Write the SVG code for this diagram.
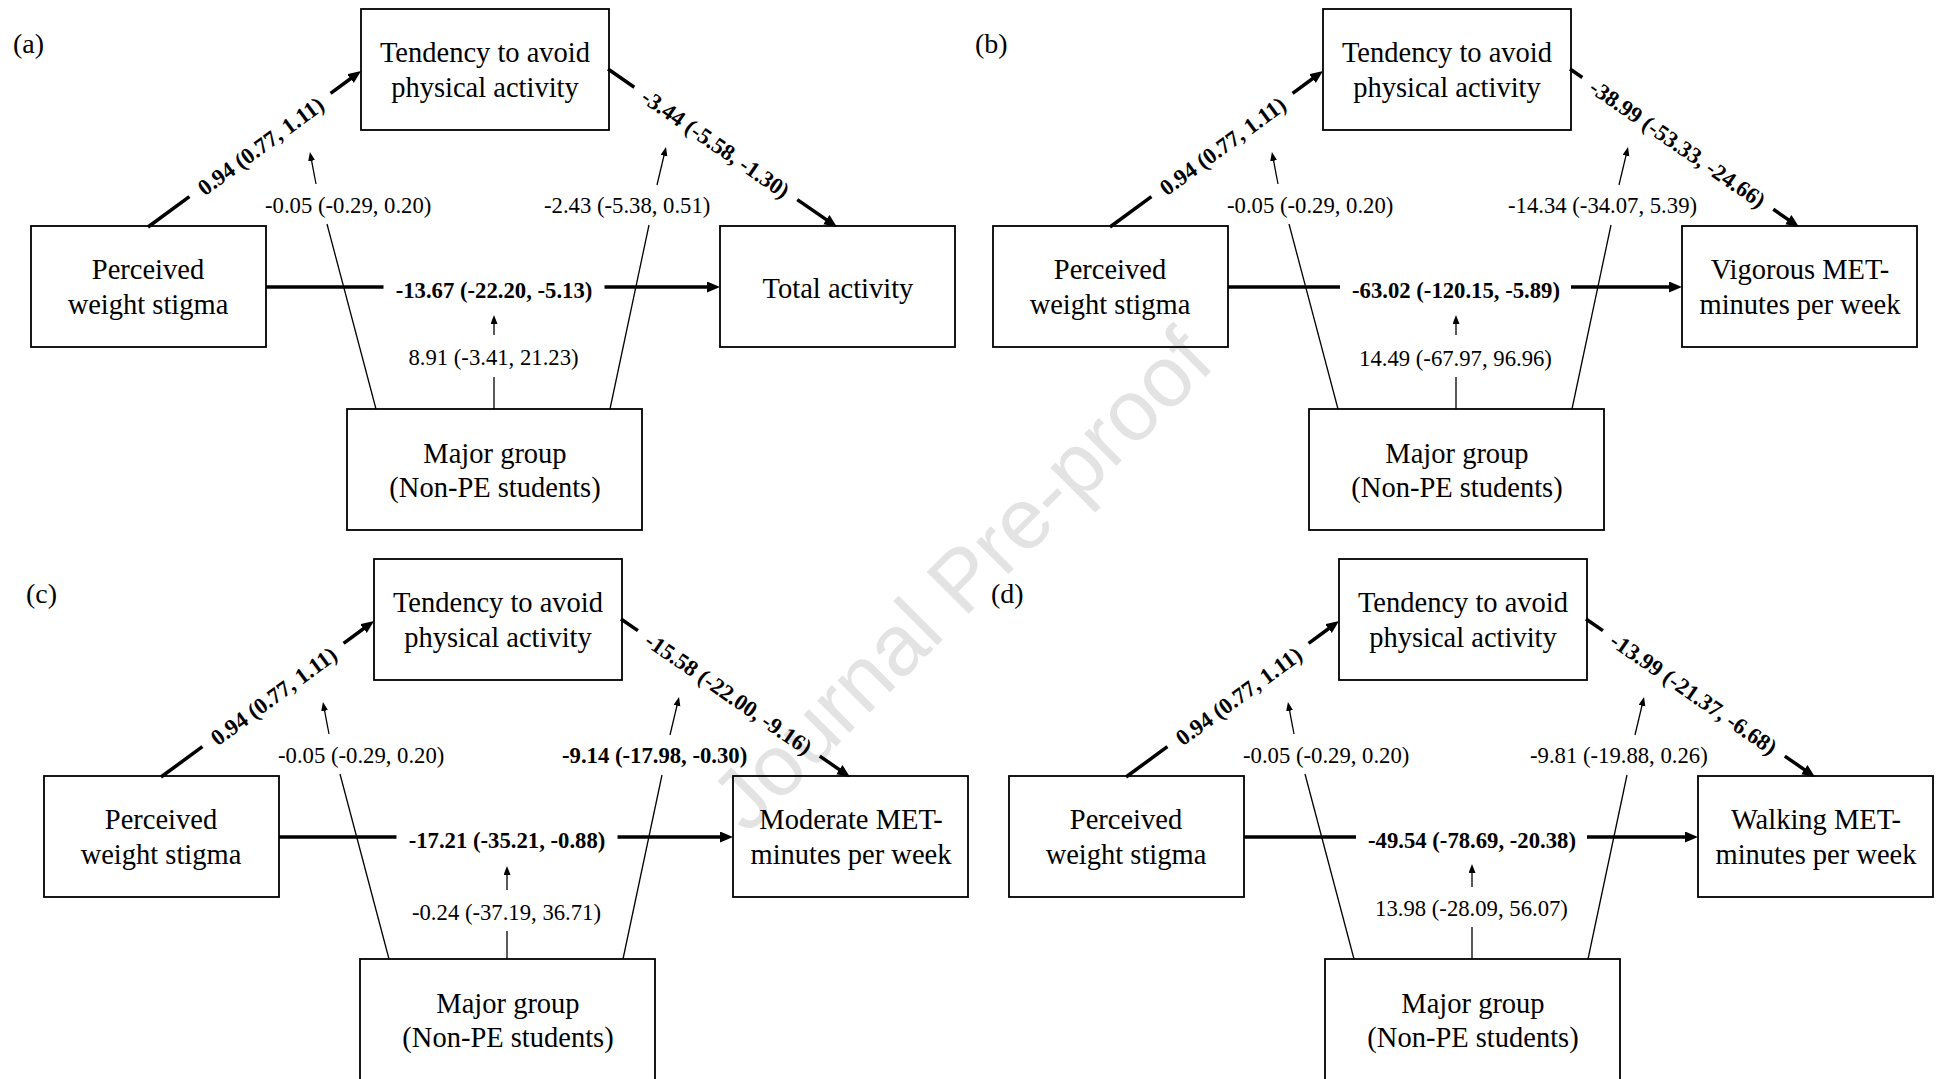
<svg xmlns="http://www.w3.org/2000/svg" width="1937" height="1079" viewBox="0 0 1937 1079">
<style>
.bg{fill:#fff}
.box{fill:none;stroke:#000;stroke-width:1.8}
.node{font-family:"Liberation Serif","Times New Roman",serif;font-size:28.5px;text-anchor:middle;fill:#000}
.lbl{font-family:"Liberation Serif","Times New Roman",serif;font-size:22.7px;fill:#000}
.b{font-weight:bold}
.mid{text-anchor:middle}
.thick{stroke:#000;stroke-width:3.5;fill:none}
.thin{stroke:#000;stroke-width:1.3;fill:none}
.tag{font-family:"Liberation Serif","Times New Roman",serif;font-size:28px;fill:#000}
.wm{font-family:"Liberation Sans",Arial,sans-serif;font-size:86px;fill:#e3e3e3;text-anchor:middle}
</style>
<defs>
<marker id="ah" markerUnits="userSpaceOnUse" markerWidth="14" markerHeight="12" refX="7" refY="5.5" orient="auto"><path d="M0,0 L13,5.5 L0,11 z" fill="#000"/></marker>
<marker id="ahs" markerUnits="userSpaceOnUse" markerWidth="10" markerHeight="8" refX="5" refY="3.5" orient="auto"><path d="M0,0 L9,3.5 L0,7 z" fill="#000"/></marker>
</defs>
<rect class="bg" x="0" y="0" width="1937" height="1079"/>
<text class="wm" transform="translate(961,579) rotate(-45)" dy="30">Journal Pre-proof</text>

<!-- Panel a -->
<g id="panel-a">
<text class="tag" x="13" y="53">(a)</text>
<g id="a-tendency"><rect class="box" x="361" y="9" width="248" height="121"/><text class="node" x="485" y="62">Tendency to avoid</text><text class="node" x="485" y="97">physical activity</text></g>
<g id="a-stigma"><rect class="box" x="31" y="226" width="235" height="121"/><text class="node" x="148" y="279">Perceived</text><text class="node" x="148" y="314">weight stigma</text></g>
<g id="a-outcome"><rect class="box" x="720" y="226" width="235" height="121"/><text class="node" x="838" y="298">Total activity</text></g>
<g id="a-major"><rect class="box" x="347" y="409" width="295" height="121"/><text class="node" x="495" y="463">Major group</text><text class="node" x="495" y="497">(Non-PE students)</text></g>
<g id="a-connectors">
<line class="thick" x1="148" y1="227" x2="189.4" y2="196.7"/>
<line class="thick" x1="330.6" y1="93.3" x2="356.2" y2="74.5" marker-end="url(#ah)"/>
<line class="thick" x1="608" y1="69" x2="634.3" y2="87.2"/>
<line class="thick" x1="797.3" y1="199.6" x2="832.1" y2="223.6" marker-end="url(#ah)"/>
<line class="thick" x1="266" y1="287" x2="383.5" y2="287"/>
<line class="thick" x1="604.5" y1="287" x2="714" y2="287" marker-end="url(#ah)"/>
<line class="thin" x1="376" y1="409" x2="327" y2="224"/>
<line class="thin" x1="316" y1="184" x2="310.7" y2="155.9" marker-end="url(#ahs)"/>
<line class="thin" x1="610" y1="409" x2="649" y2="225"/>
<line class="thin" x1="657" y1="185" x2="665.1" y2="150.9" marker-end="url(#ahs)"/>
<line class="thin" x1="494" y1="409" x2="494" y2="377"/>
<line class="thin" x1="494" y1="335" x2="494" y2="319" marker-end="url(#ahs)"/>
</g>
<g id="a-labels">
<text class="lbl b mid" transform="translate(260,145) rotate(-36.2)" y="9">0.94 (0.77, 1.11)</text>
<text class="lbl b mid" transform="translate(715.8,143.4) rotate(34.6)" y="8">-3.44 (-5.58, -1.30)</text>
<text class="lbl b mid" x="494" y="298">-13.67 (-22.20, -5.13)</text>
<text class="lbl" x="265" y="213">-0.05 (-0.29, 0.20)</text>
<text class="lbl" x="544" y="213">-2.43 (-5.38, 0.51)</text>
<text class="lbl mid" x="493.5" y="365">8.91 (-3.41, 21.23)</text>
</g>
</g>

<!-- Panel b -->
<g id="panel-b" transform="translate(962,0)">
<text class="tag" x="13" y="53">(b)</text>
<g id="b-tendency"><rect class="box" x="361" y="9" width="248" height="121"/><text class="node" x="485" y="62">Tendency to avoid</text><text class="node" x="485" y="97">physical activity</text></g>
<g id="b-stigma"><rect class="box" x="31" y="226" width="235" height="121"/><text class="node" x="148" y="279">Perceived</text><text class="node" x="148" y="314">weight stigma</text></g>
<g id="b-outcome"><rect class="box" x="720" y="226" width="235" height="121"/><text class="node" x="838" y="279">Vigorous MET-</text><text class="node" x="838" y="314">minutes per week</text></g>
<g id="b-major"><rect class="box" x="347" y="409" width="295" height="121"/><text class="node" x="495" y="463">Major group</text><text class="node" x="495" y="497">(Non-PE students)</text></g>
<g id="b-connectors">
<line class="thick" x1="148" y1="227" x2="189.4" y2="196.7"/>
<line class="thick" x1="330.6" y1="93.3" x2="356.2" y2="74.5" marker-end="url(#ah)"/>
<line class="thick" x1="608" y1="69" x2="620.3" y2="77.5"/>
<line class="thick" x1="811.3" y1="209.3" x2="832.1" y2="223.6" marker-end="url(#ah)"/>
<line class="thick" x1="266" y1="287" x2="378" y2="287"/>
<line class="thick" x1="609" y1="287" x2="714" y2="287" marker-end="url(#ah)"/>
<line class="thin" x1="376" y1="409" x2="327" y2="224"/>
<line class="thin" x1="316" y1="184" x2="310.7" y2="155.9" marker-end="url(#ahs)"/>
<line class="thin" x1="610" y1="409" x2="649" y2="225"/>
<line class="thin" x1="657" y1="185" x2="665.1" y2="150.9" marker-end="url(#ahs)"/>
<line class="thin" x1="494" y1="409" x2="494" y2="377"/>
<line class="thin" x1="494" y1="335" x2="494" y2="319" marker-end="url(#ahs)"/>
</g>
<g id="b-labels">
<text class="lbl b mid" transform="translate(260,145) rotate(-36.2)" y="9">0.94 (0.77, 1.11)</text>
<text class="lbl b mid" transform="translate(715.8,143.4) rotate(34.6)" y="8">-38.99 (-53.33, -24.66)</text>
<text class="lbl b mid" x="494" y="298">-63.02 (-120.15, -5.89)</text>
<text class="lbl" x="265" y="213">-0.05 (-0.29, 0.20)</text>
<text class="lbl" x="546" y="213">-14.34 (-34.07, 5.39)</text>
<text class="lbl mid" x="493.5" y="366">14.49 (-67.97, 96.96)</text>
</g>
</g>

<!-- Panel c -->
<g id="panel-c" transform="translate(13,550)">
<text class="tag" x="13" y="53">(c)</text>
<g id="c-tendency"><rect class="box" x="361" y="9" width="248" height="121"/><text class="node" x="485" y="62">Tendency to avoid</text><text class="node" x="485" y="97">physical activity</text></g>
<g id="c-stigma"><rect class="box" x="31" y="226" width="235" height="121"/><text class="node" x="148" y="279">Perceived</text><text class="node" x="148" y="314">weight stigma</text></g>
<g id="c-outcome"><rect class="box" x="720" y="226" width="235" height="121"/><text class="node" x="838" y="279">Moderate MET-</text><text class="node" x="838" y="314">minutes per week</text></g>
<g id="c-major"><rect class="box" x="347" y="409" width="295" height="121"/><text class="node" x="495" y="463">Major group</text><text class="node" x="495" y="497">(Non-PE students)</text></g>
<g id="c-connectors">
<line class="thick" x1="148" y1="227" x2="189.4" y2="196.7"/>
<line class="thick" x1="330.6" y1="93.3" x2="356.2" y2="74.5" marker-end="url(#ah)"/>
<line class="thick" x1="608" y1="69" x2="624.9" y2="80.6"/>
<line class="thick" x1="806.8" y1="206.1" x2="832.1" y2="223.6" marker-end="url(#ah)"/>
<line class="thick" x1="266" y1="287" x2="383.5" y2="287"/>
<line class="thick" x1="604.5" y1="287" x2="714" y2="287" marker-end="url(#ah)"/>
<line class="thin" x1="376" y1="409" x2="327" y2="224"/>
<line class="thin" x1="316" y1="184" x2="310.7" y2="155.9" marker-end="url(#ahs)"/>
<line class="thin" x1="610" y1="409" x2="649" y2="225"/>
<line class="thin" x1="657" y1="185" x2="665.1" y2="150.9" marker-end="url(#ahs)"/>
<line class="thin" x1="494" y1="409" x2="494" y2="381"/>
<line class="thin" x1="494" y1="340" x2="494" y2="320" marker-end="url(#ahs)"/>
</g>
<g id="c-labels">
<text class="lbl b mid" transform="translate(260,145) rotate(-36.2)" y="9">0.94 (0.77, 1.11)</text>
<text class="lbl b mid" transform="translate(715.8,143.4) rotate(34.6)" y="8">-15.58 (-22.00, -9.16)</text>
<text class="lbl b mid" x="494" y="298">-17.21 (-35.21, -0.88)</text>
<text class="lbl" x="265" y="213">-0.05 (-0.29, 0.20)</text>
<text class="lbl b" x="549" y="213">-9.14 (-17.98, -0.30)</text>
<text class="lbl mid" x="493.5" y="370">-0.24 (-37.19, 36.71)</text>
</g>
</g>

<!-- Panel d -->
<g id="panel-d" transform="translate(978,550)">
<text class="tag" x="13" y="53">(d)</text>
<g id="d-tendency"><rect class="box" x="361" y="9" width="248" height="121"/><text class="node" x="485" y="62">Tendency to avoid</text><text class="node" x="485" y="97">physical activity</text></g>
<g id="d-stigma"><rect class="box" x="31" y="226" width="235" height="121"/><text class="node" x="148" y="279">Perceived</text><text class="node" x="148" y="314">weight stigma</text></g>
<g id="d-outcome"><rect class="box" x="720" y="226" width="235" height="121"/><text class="node" x="838" y="279">Walking MET-</text><text class="node" x="838" y="314">minutes per week</text></g>
<g id="d-major"><rect class="box" x="347" y="409" width="295" height="121"/><text class="node" x="495" y="463">Major group</text><text class="node" x="495" y="497">(Non-PE students)</text></g>
<g id="d-connectors">
<line class="thick" x1="148" y1="227" x2="189.4" y2="196.7"/>
<line class="thick" x1="330.6" y1="93.3" x2="356.2" y2="74.5" marker-end="url(#ah)"/>
<line class="thick" x1="608" y1="69" x2="624.9" y2="80.6"/>
<line class="thick" x1="806.8" y1="206.1" x2="832.1" y2="223.6" marker-end="url(#ah)"/>
<line class="thick" x1="266" y1="287" x2="378" y2="287"/>
<line class="thick" x1="609" y1="287" x2="714" y2="287" marker-end="url(#ah)"/>
<line class="thin" x1="376" y1="409" x2="327" y2="224"/>
<line class="thin" x1="316" y1="184" x2="310.7" y2="155.9" marker-end="url(#ahs)"/>
<line class="thin" x1="610" y1="409" x2="649" y2="225"/>
<line class="thin" x1="657" y1="185" x2="665.1" y2="150.9" marker-end="url(#ahs)"/>
<line class="thin" x1="494" y1="409" x2="494" y2="377"/>
<line class="thin" x1="494" y1="337" x2="494" y2="318" marker-end="url(#ahs)"/>
</g>
<g id="d-labels">
<text class="lbl b mid" transform="translate(260,145) rotate(-36.2)" y="9">0.94 (0.77, 1.11)</text>
<text class="lbl b mid" transform="translate(715.8,143.4) rotate(34.6)" y="8">-13.99 (-21.37, -6.68)</text>
<text class="lbl b mid" x="494" y="298">-49.54 (-78.69, -20.38)</text>
<text class="lbl" x="265" y="213">-0.05 (-0.29, 0.20)</text>
<text class="lbl" x="552" y="213">-9.81 (-19.88, 0.26)</text>
<text class="lbl mid" x="493.5" y="366">13.98 (-28.09, 56.07)</text>
</g>
</g>
</svg>
